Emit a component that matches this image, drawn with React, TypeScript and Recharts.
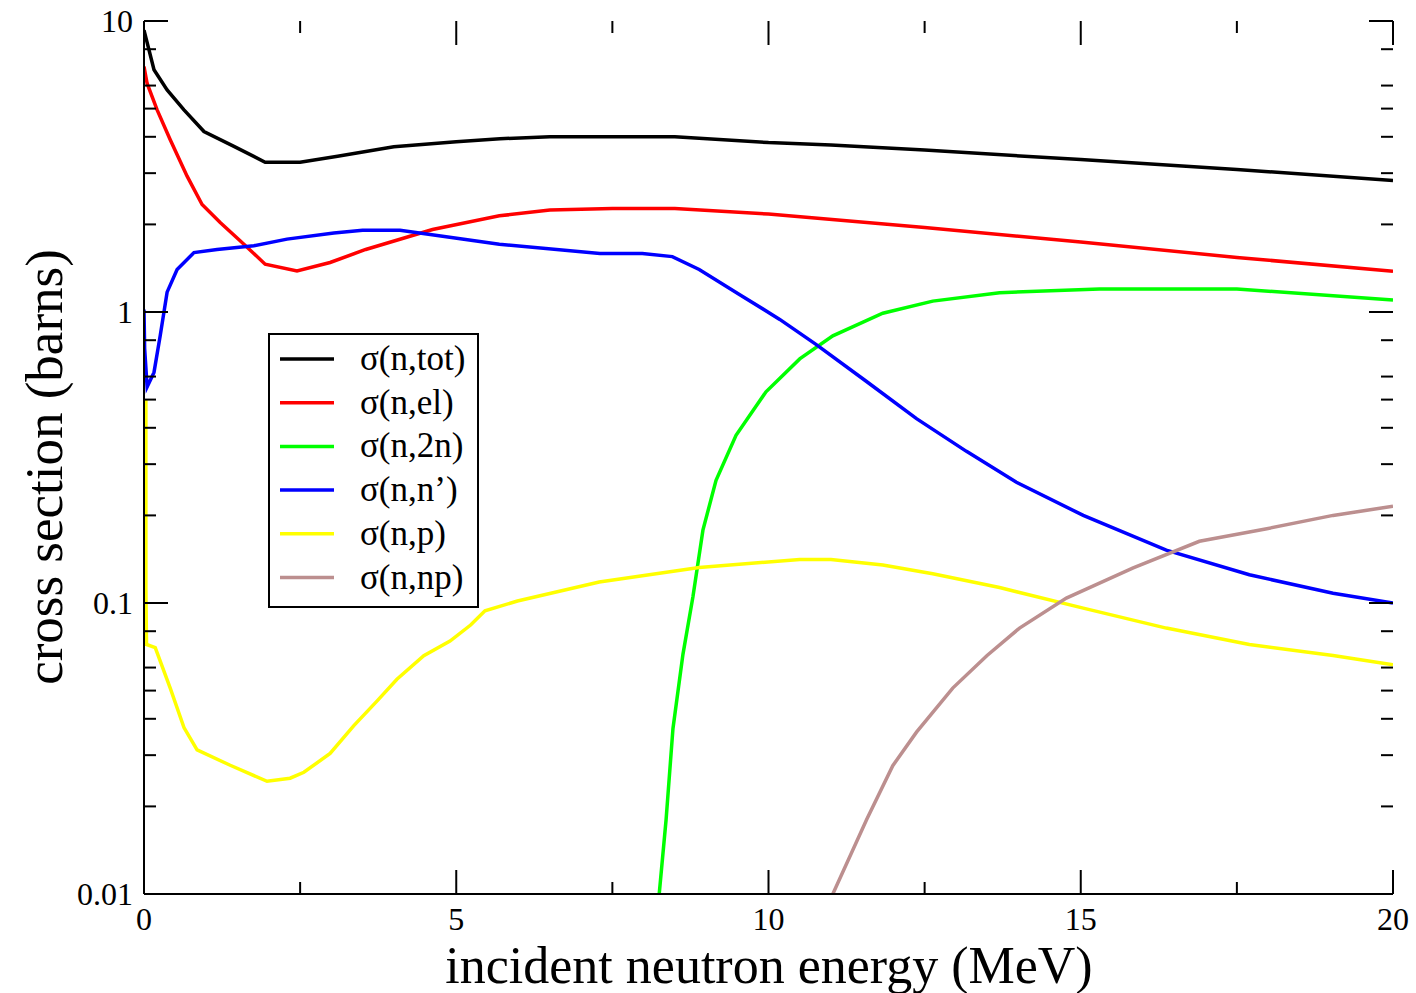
import React from 'react';
import { LineChart, Line, XAxis, YAxis, Legend, Label } from 'recharts';

// energy (MeV), cross section (barns)
const totData = [
  [0, 9.3], [0.16, 6.8], [0.37, 5.8], [0.64, 4.95], [0.96, 4.17], [1.44, 3.71], [1.94, 3.27],
  [2.5, 3.27], [3.1, 3.43], [4, 3.7], [5, 3.85], [5.7, 3.94], [6.5, 4.0], [7.5, 4.0], [8.5, 4.0],
  [10, 3.82], [11, 3.75], [12.5, 3.6], [15, 3.34], [17.5, 3.09], [20, 2.83],
];
const elData = [
  [0, 6.97], [0.05, 6.1], [0.21, 4.95], [0.42, 3.91], [0.69, 2.93], [0.93, 2.34], [1.22, 2.03],
  [1.6, 1.71], [1.94, 1.46], [2.45, 1.385], [2.98, 1.48], [3.55, 1.64], [4.62, 1.92], [5.69, 2.14],
  [6.5, 2.24], [7.5, 2.27], [8.5, 2.27], [10, 2.17], [12.5, 1.95], [15, 1.74], [17.5, 1.54], [20, 1.38],
];
const n2nData = [
  [8.25, 0.01], [8.36, 0.018], [8.47, 0.037], [8.63, 0.0666], [8.79, 0.105], [8.95, 0.178],
  [9.16, 0.264], [9.48, 0.377], [9.96, 0.532], [10.5, 0.69], [11.03, 0.828], [11.83, 0.99],
  [12.63, 1.09], [13.7, 1.165], [15.3, 1.2], [17.5, 1.2], [20, 1.1],
];
const inelData = [
  [0, 1.02], [0.01, 0.75], [0.05, 0.553], [0.16, 0.62], [0.26, 0.83], [0.37, 1.17], [0.53, 1.4],
  [0.8, 1.6], [1.17, 1.64], [1.76, 1.69], [2.29, 1.78], [3.04, 1.87], [3.5, 1.91], [4.1, 1.91],
  [5.69, 1.71], [7.3, 1.59], [7.98, 1.59], [8.46, 1.55], [8.89, 1.4], [9.54, 1.147], [10.18, 0.943],
  [10.76, 0.774], [11.57, 0.577], [12.37, 0.43], [13.17, 0.332], [13.97, 0.26], [15.04, 0.2],
  [16.37, 0.152], [17.7, 0.125], [19.04, 0.108], [20, 0.1],
];
const npData = [
  [0.03, 0.5], [0.03, 0.113], [0.04, 0.072], [0.18, 0.0703], [0.42, 0.051], [0.64, 0.0373], [0.85, 0.0313],
  [1.38, 0.0277], [1.97, 0.0244], [2.34, 0.025], [2.56, 0.0262], [2.98, 0.0304], [3.36, 0.0379],
  [3.73, 0.046], [4.05, 0.0547], [4.48, 0.0659], [4.9, 0.074], [5.23, 0.084], [5.46, 0.094],
  [5.98, 0.1016], [7.29, 0.118], [8.89, 0.1325], [10.5, 0.141], [11.0, 0.141], [11.83, 0.135],
  [12.63, 0.126], [13.7, 0.113], [15.04, 0.096], [16.37, 0.082], [17.7, 0.072], [19.04, 0.066],
  [20, 0.0613],
];
const nnpData = [
  [11.03, 0.01], [11.57, 0.018], [11.99, 0.0276], [12.37, 0.036], [12.95, 0.051], [13.5, 0.066],
  [14.02, 0.082], [14.77, 0.104], [15.84, 0.132], [16.9, 0.163], [17.98, 0.18], [19.04, 0.2],
  [20, 0.215],
];

const xTicks = [0, 2.5, 5, 7.5, 10, 12.5, 15, 17.5, 20];
const yTicks = [
  0.01, 0.02, 0.03, 0.04, 0.05, 0.06, 0.07, 0.08, 0.09,
  0.1, 0.2, 0.3, 0.4, 0.5, 0.6, 0.7, 0.8, 0.9,
  1, 2, 3, 4, 5, 6, 7, 8, 9, 10,
];
const yLabels: Record<string, string> = { '0.01': '0.01', '0.1': '0.1', '1': '1', '10': '10' };

const series = [
  { name: 'σ(n,tot)', color: '#000000', data: totData },
  { name: 'σ(n,el)', color: '#ff0000', data: elData },
  { name: 'σ(n,2n)', color: '#00ff00', data: n2nData },
  { name: 'σ(n,n’)', color: '#0000ff', data: inelData },
  { name: 'σ(n,p)', color: '#ffff00', data: npData },
  { name: 'σ(n,np)', color: '#bc8f8f', data: nnpData },
];

const FONT = '"Liberation Serif", "Times New Roman", serif';
const LEFT = 144;
const RIGHT = 1393;
const TOP = 21;
const BOTTOM = 894;

const XTick = ({ x, payload }: any) => {
  const major = payload.value % 5 === 0;
  const len = major ? 24 : 12;
  return (
    <g>
      <line x1={x} x2={x} y1={BOTTOM} y2={BOTTOM - len} stroke="#000" strokeWidth={2} />
      <line x1={x} x2={x} y1={TOP} y2={TOP + len} stroke="#000" strokeWidth={2} />
      {major && (
        <text x={x} y={930} textAnchor="middle" fontSize={32} fontFamily={FONT} fill="#000">
          {payload.value}
        </text>
      )}
    </g>
  );
};

const YTick = ({ y, payload }: any) => {
  const label = yLabels[String(payload.value)];
  const len = label ? 24 : 12;
  return (
    <g>
      <line x1={LEFT} x2={LEFT + len} y1={y} y2={y} stroke="#000" strokeWidth={2} />
      <line x1={RIGHT} x2={RIGHT - len} y1={y} y2={y} stroke="#000" strokeWidth={2} />
      {label && (
        <text x={133} y={y + 11} textAnchor="end" fontSize={32} fontFamily={FONT} fill="#000">
          {label}
        </text>
      )}
    </g>
  );
};

const renderLegend = () => (
  <div style={{ width: 211, height: 275, border: '2px solid #000', boxSizing: 'border-box', background: '#fff' }}>
    <svg width={207} height={271}>
      {series.map((s, i) => {
        const cy = 24 + i * 43.7;
        return (
          <g key={s.name}>
            <line x1={10} x2={64} y1={cy} y2={cy} stroke={s.color} strokeWidth={3.5} />
            <text x={90} y={cy + 11} fontSize={35} fontFamily={FONT} fill="#000">
              {s.name}
            </text>
          </g>
        );
      })}
    </svg>
  </div>
);

const App: React.FC = () => {
  return (
    <div style={{ position: 'absolute', left: 0, top: 0, width: 1416, height: 993, background: '#fff' }}>
      <LineChart width={1416} height={993} margin={{ top: TOP, right: 1416 - RIGHT, left: 0, bottom: 0 }}>
        <XAxis
          dataKey="e"
          type="number"
          domain={[0, 20]}
          ticks={xTicks}
          height={993 - BOTTOM}
          tick={<XTick />}
          tickLine={false}
          axisLine={{ stroke: '#000', strokeWidth: 2 }}
          allowDataOverflow
        >
          <Label
            content={() => (
              <text x={769} y={983} textAnchor="middle" fontSize={52} fontFamily={FONT} fill="#000">
                incident neutron energy (MeV)
              </text>
            )}
          />
        </XAxis>
        <XAxis
          xAxisId="top"
          orientation="top"
          type="number"
          domain={[0, 20]}
          height={0}
          tick={false}
          tickLine={false}
          axisLine={{ stroke: '#000', strokeWidth: 2 }}
        />
        <YAxis
          type="number"
          scale="log"
          domain={[0.01, 10]}
          ticks={yTicks}
          width={LEFT}
          tick={<YTick />}
          tickLine={false}
          axisLine={{ stroke: '#000', strokeWidth: 2 }}
          allowDataOverflow
        >
          <Label
            content={() => (
              <text
                x={62}
                y={467}
                textAnchor="middle"
                fontSize={53}
                fontFamily={FONT}
                fill="#000"
                transform="rotate(-90, 62, 467)"
              >
                cross section (barns)
              </text>
            )}
          />
        </YAxis>
        <YAxis
          yAxisId="right"
          orientation="right"
          type="number"
          domain={[0, 1]}
          width={0}
          tick={false}
          tickLine={false}
          axisLine={{ stroke: '#000', strokeWidth: 2 }}
        />
        <Legend
          layout="vertical"
          align="center"
          verticalAlign="middle"
          content={renderLegend}
          wrapperStyle={{ left: 268, top: 333, width: 211, height: 275 }}
        />
        {series.map(s => (
          <Line
            key={s.name}
            name={s.name}
            data={s.data.map(([e, v]) => ({ e, v }))}
            dataKey="v"
            type="linear"
            stroke={s.color}
            strokeWidth={3.5}
            dot={false}
            isAnimationActive={false}
          />
        ))}
      </LineChart>
    </div>
  );
};

export default App;
